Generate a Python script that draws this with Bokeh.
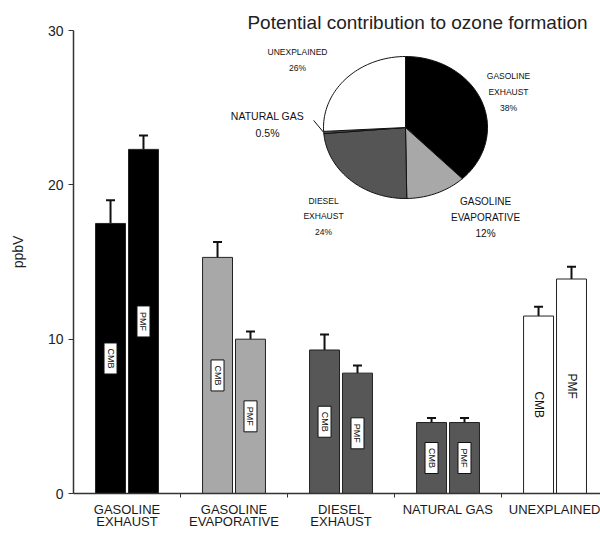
import numpy as np
from bokeh.plotting import figure
from bokeh.models import ColumnDataSource, Range1d, FixedTicker, Whisker, TeeHead
from bokeh.core.properties import value
from bokeh.embed import file_html
from bokeh.resources import INLINE

# Source apportionment of VOCs (ppbV), two receptor models per source
categories = ["GASOLINE\nEXHAUST", "GASOLINE\nEVAPORATIVE", "DIESEL\nEXHAUST",
              "NATURAL GAS", "UNEXPLAINED"]
cmb = [17.5, 15.3, 9.3, 4.6, 11.5]
cmb_err = [1.5, 1.0, 1.0, 0.3, 0.6]
pmf = [22.3, 10.0, 7.8, 4.6, 13.9]
pmf_err = [0.9, 0.5, 0.5, 0.3, 0.8]
bar_colors = ["#000000", "#a8a8a8", "#575757", "#575757", "#ffffff"]
y_ticks = [0, 10, 20, 30]

# Potential contribution to ozone formation (%)
pie_names = ["GASOLINE\nEXHAUST", "GASOLINE\nEVAPORATIVE", "DIESEL\nEXHAUST",
             "NATURAL GAS", "UNEXPLAINED"]
pie_share = [38, 12, 24, 0.5, 26]
pie_pct_text = ["38%", "12%", "24%", "0.5%", "26%"]
pie_colors = ["#000000", "#a8a8a8", "#555555", "#555555", "#ffffff"]

FONT = "Liberation Sans"

p = figure(width=600, height=533, output_backend="svg", toolbar_location=None,
           x_range=Range1d(0, 4.925), y_range=Range1d(0, 31.3),
           min_border_left=73, min_border_right=0, min_border_top=10,
           min_border_bottom=40)
p.outline_line_color = None
p.xgrid.visible = False
p.ygrid.visible = False
p.background_fill_color = "white"
p.border_fill_color = "white"

# ---- bars ----
n = len(categories)
centers = np.arange(n) + 0.5
off, bw = 0.154, 0.28
bx = np.concatenate([centers - off, centers + off])
top = np.array(cmb + pmf)
err = np.array(cmb_err + pmf_err)
src = ColumnDataSource(dict(
    x=bx, top=top, upper=top + err, mid=top / 2,
    color=bar_colors + bar_colors,
    name=["CMB"] * n + ["PMF"] * n,
    box_alpha=[1, 1, 1, 1, 0] * 2,
    box_h=[31, 31, 31, 31, 48] * 2,
    fs=["9px"] * 4 + ["12px"] + ["9px"] * 4 + ["12px"],
))
p.vbar(x="x", top="top", bottom=0, width=bw, source=src,
       fill_color="color", line_color="#222222", line_width=1)
p.add_layout(Whisker(base="x", upper="upper", lower="top", source=src,
                     dimension="height", line_color="#111111", line_width=2,
                     upper_head=TeeHead(size=9, line_width=2, line_color="#111111"),
                     lower_head=None))

# model name tags inside each bar
p.rect(x="x", y="mid", width=13, height="box_h", width_units="screen",
       height_units="screen", source=src, fill_color="white",
       line_color="#111111", line_alpha="box_alpha", line_width=1)
p.text(x="x", y="mid", text="name", angle=-np.pi / 2, source=src,
       text_align="center", text_baseline="middle", text_font_size="fs",
       text_font=value(FONT), text_color="#111111")

# ---- axes ----
yax = p.yaxis[0]
yax.ticker = FixedTicker(ticks=y_ticks)
yax.bounds = (0, 30)
yax.axis_label = "ppbV"
yax.axis_label_text_font = FONT
yax.axis_label_text_font_size = "14px"
yax.axis_label_text_font_style = "normal"
yax.axis_label_text_color = "#222222"
yax.axis_label_standoff = 19
yax.major_label_text_font = FONT
yax.major_label_text_font_size = "14px"
yax.major_label_text_color = "#222222"
yax.major_label_standoff = 5
yax.major_tick_in = 0
yax.major_tick_out = 5
yax.minor_tick_out = 0
yax.minor_tick_in = 0
yax.axis_line_width = 1.5
yax.axis_line_color = "#333333"
yax.major_tick_line_color = "#333333"

xax = p.xaxis[0]
xax.ticker = FixedTicker(ticks=list(centers), minor_ticks=[1, 2, 3, 4])
xax.major_label_overrides = {float(c): lab for c, lab in zip(centers, categories)}
xax.major_label_text_font = FONT
xax.major_label_text_font_size = "13px"
xax.major_label_text_color = "#1a1a1a"
xax.major_label_text_line_height = 0.85
xax.major_label_standoff = 4
xax.major_tick_in = 0
xax.major_tick_out = 0
xax.minor_tick_in = 0
xax.minor_tick_out = 4
xax.minor_tick_line_color = "#333333"
xax.axis_line_width = 1.5
xax.axis_line_color = "#333333"

# ---- inset pie (elliptical, own coordinate ranges) ----
p.extra_x_ranges = {"pie_x": Range1d(-4.049, 2.378)}
p.extra_y_ranges = {"pie_y": Range1d(-5.155, 1.648)}

total = sum(pie_share)
cum = np.concatenate([[0], np.cumsum(pie_share)]) / total
xs, ys = [], []
for a0, a1 in zip(cum[:-1], cum[1:]):
    # clockwise from 12 o'clock
    t = np.linspace(a0, a1, max(3, int((a1 - a0) * 180) + 2))
    ang = np.pi / 2 - 2 * np.pi * t
    xs.append(np.concatenate([[0], np.cos(ang), [0]]).tolist())
    ys.append(np.concatenate([[0], np.sin(ang), [0]]).tolist())
p.patches(xs, ys, fill_color=pie_colors, line_color="#111111", line_width=1,
          x_range_name="pie_x", y_range_name="pie_y")

p.text(x=[0.146], y=[1.48], text=["Potential contribution to ozone formation"],
       x_range_name="pie_x", y_range_name="pie_y", text_align="center",
       text_baseline="middle", text_font=value(FONT), text_font_size="19px",
       text_color="#222222")

lab_x = [1.256, 0.976, -1.0, -1.683, -1.317]
lab_y = [0.80, -0.96, -0.96, 0.24, 1.13]
lab_fs = ["8.5px", "10px", "8.5px", "10.5px", "8.5px"]
lab_lh = [1.6, 1.45, 1.55, 1.35, 1.6]
pie_src = ColumnDataSource(dict(
    x=lab_x, y=lab_y, fs=lab_fs, lh=lab_lh,
    text=[f"{nm}\n{pc}" for nm, pc in zip(pie_names, pie_pct_text)]))
p.text(x="x", y="y", text="text", source=pie_src, x_range_name="pie_x",
       y_range_name="pie_y", text_align="center", text_baseline="top",
       text_font=value(FONT), text_font_size="fs", text_line_height="lh",
       text_color="#111111")

# leader from the natural gas label to its slice
ng_mid = np.pi / 2 - 2 * np.pi * (cum[3] + cum[4]) / 2
p.line(x=[-1.12, np.cos(ng_mid)], y=[0.10, np.sin(ng_mid)],
       x_range_name="pie_x", y_range_name="pie_y", line_color="#111111",
       line_width=1)

open("out.html", "w").write(file_html(p, INLINE))
